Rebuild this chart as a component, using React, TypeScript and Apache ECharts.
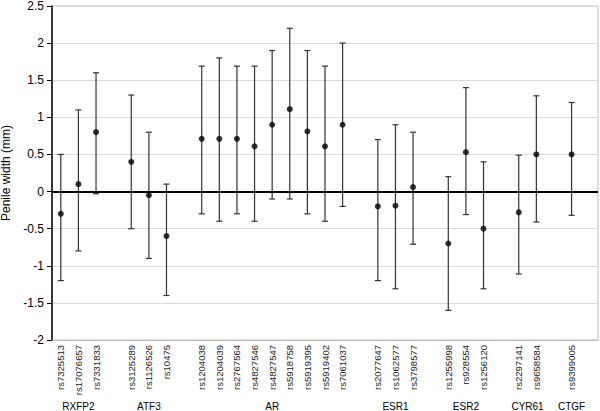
import React, { useEffect, useRef } from "react";
import * as echarts from "echarts";

const genes = ["RXFP2", "ATF3", "AR", "ESR1", "ESR2", "CYR61", "CTGF"];
const groupSizes = [3, 3, 9, 3, 3, 2, 1];
const snps = [
  "rs7325513", "rs17076657", "rs7331833",
  "rs3125289", "rs1126526", "rs10475",
  "rs1204038", "rs1204039", "rs2767564", "rs4827546", "rs4827547", "rs5918758", "rs5919395", "rs5919402", "rs7061037",
  "rs2077647", "rs1062577", "rs3798577",
  "rs1255998", "rs928554", "rs1256120",
  "rs2297141", "rs9658584",
  "rs9399005",
];
const means = [
  -0.3, 0.1, 0.8,
  0.4, -0.05, -0.6,
  0.71, 0.71, 0.71, 0.61, 0.9, 1.11, 0.81, 0.61, 0.9,
  -0.2, -0.19, 0.06,
  -0.7, 0.53, -0.5,
  -0.28, 0.5,
  0.5,
];
const lows = [
  -1.2, -0.8, -0.03,
  -0.5, -0.9, -1.4,
  -0.3, -0.4, -0.3, -0.4, -0.1, -0.1, -0.3, -0.4, -0.2,
  -1.2, -1.31, -0.71,
  -1.6, -0.31, -1.31,
  -1.11, -0.41,
  -0.32,
];
const highs = [
  0.5, 1.1, 1.6,
  1.3, 0.8, 0.1,
  1.69, 1.8, 1.69, 1.69, 1.9, 2.2, 1.9, 1.69, 2.0,
  0.7, 0.9, 0.8,
  0.2, 1.4, 0.4,
  0.49, 1.29,
  1.2,
];
const yTicks = { min: -2, max: 2.5, interval: 0.5 };

const FONT = "'Liberation Sans', Arial, sans-serif";

export default function App() {
  const ref = useRef<HTMLDivElement>(null);
  useEffect(() => {
    document.body.style.margin = "0";
    if (!ref.current) return;
    const chart = echarts.init(ref.current, undefined, { renderer: "svg" });

    const cats: string[] = [];
    const xIdx: number[] = [];
    const groupRanges: [number, number][] = [];
    let s = 0;
    groupSizes.forEach((size) => {
      const start = cats.length;
      for (let j = 0; j < size; j++) {
        xIdx.push(cats.length);
        cats.push(snps[s]);
        s++;
      }
      groupRanges.push([start, cats.length - 1]);
      cats.push("");
    });

    const pointData = means.map((m, i) => [xIdx[i], m]);
    const barData = lows.map((l, i) => [xIdx[i], l, highs[i]]);

    chart.setOption({
      animation: false,
      textStyle: { fontFamily: FONT },
      grid: {
        left: 52,
        right: 2,
        top: 6,
        bottom: 71,
        containLabel: false,
        outerBoundsMode: "none",
        show: true,
        borderColor: "#bdbdbd",
        borderWidth: 1,
      },
      xAxis: {
        type: "category",
        data: cats,
        boundaryGap: true,
        axisLine: { show: true, onZero: false, lineStyle: { color: "#bdbdbd" } },
        axisTick: { show: false },
        axisLabel: {
          interval: 0,
          rotate: 90,
          fontSize: 9.5,
          color: "#222",
          fontFamily: FONT,
          margin: 5,
        },
        splitLine: { show: false },
      },
      yAxis: {
        type: "value",
        min: yTicks.min,
        max: yTicks.max,
        interval: yTicks.interval,
        name: "Penile width (mm)",
        nameLocation: "middle",
        nameGap: 33,
        nameTextStyle: { fontSize: 12, color: "#000", fontFamily: FONT },
        axisLine: { show: true, lineStyle: { color: "#000", width: 1.5 } },
        axisTick: { show: true, length: 5, lineStyle: { color: "#000" } },
        axisLabel: { fontSize: 12, lineHeight: 11, color: "#000", margin: 8, fontFamily: FONT },
        splitLine: { show: true, lineStyle: { color: "#d9d9d9", width: 1 } },
      },
      series: [
        {
          type: "custom",
          data: barData,
          encode: { x: 0, y: [1, 2] },
          renderItem: (params: any, api: any) => {
            const x = api.value(0);
            const lo = api.coord([x, api.value(1)]);
            const hi = api.coord([x, api.value(2)]);
            const cap = 3;
            const style = { stroke: "#333", lineWidth: 1.2 };
            return {
              type: "group",
              children: [
                { type: "line", shape: { x1: lo[0], y1: lo[1], x2: hi[0], y2: hi[1] }, style },
                { type: "line", shape: { x1: lo[0] - cap, y1: lo[1], x2: lo[0] + cap, y2: lo[1] }, style },
                { type: "line", shape: { x1: hi[0] - cap, y1: hi[1], x2: hi[0] + cap, y2: hi[1] }, style },
              ],
            };
          },
          z: 2,
        },
        {
          type: "scatter",
          data: pointData,
          symbol: "circle",
          symbolSize: 6,
          itemStyle: { color: "#000" },
          z: 3,
          markLine: {
            silent: true,
            symbol: "none",
            label: { show: false },
            lineStyle: { color: "#000", width: 2, type: "solid" },
            data: [{ yAxis: 0 }],
          },
        },
      ],
    });

    const graphics = groupRanges.map(([a, b], g) => {
      const pa = chart.convertToPixel({ xAxisIndex: 0 }, a) as number;
      const pb = chart.convertToPixel({ xAxisIndex: 0 }, b) as number;
      return {
        type: "text",
        x: (pa + pb) / 2,
        y: 406,
        style: {
          text: genes[g],
          fontSize: 10,
          fill: "#000",
          fontFamily: FONT,
          textAlign: "center",
          textVerticalAlign: "middle",
        },
      };
    });
    chart.setOption({ graphic: graphics });

    return () => chart.dispose();
  }, []);
  return <div ref={ref} style={{ width: 600, height: 411 }} />;
}
